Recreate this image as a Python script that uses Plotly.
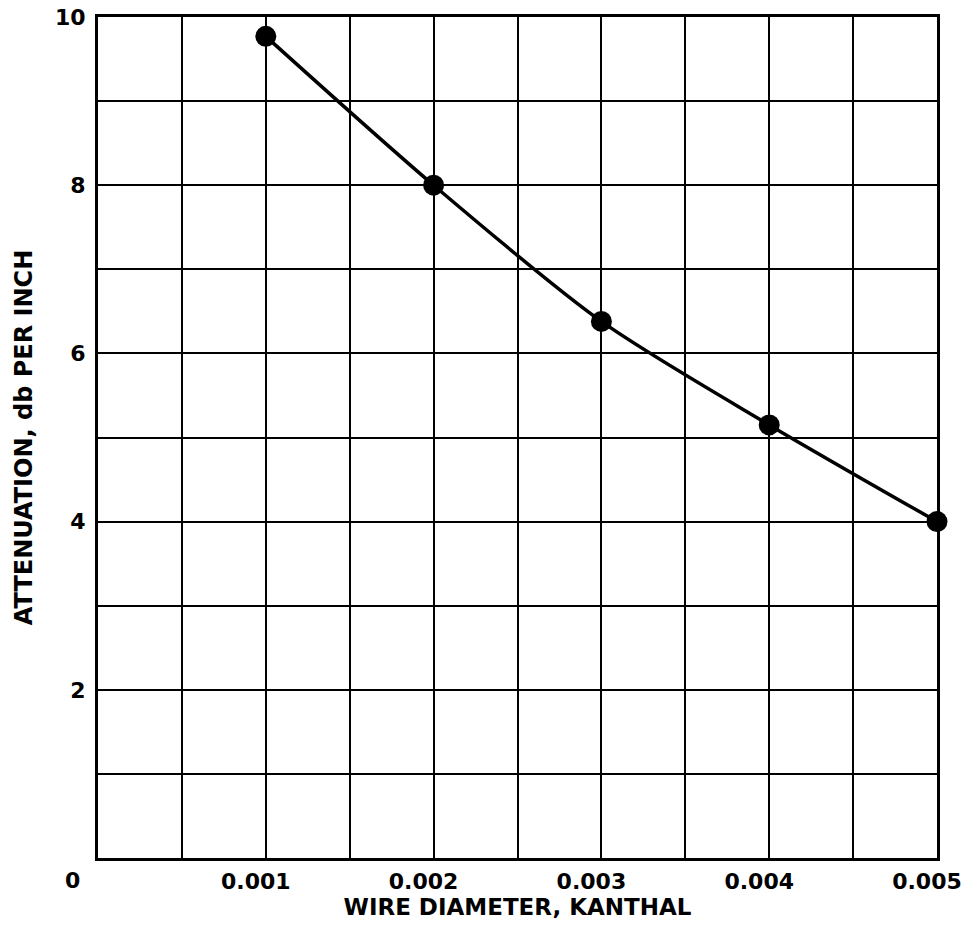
import plotly.graph_objects as go

diameter = [0.001, 0.002, 0.003, 0.004, 0.005]
attenuation = [9.77, 8.0, 6.38, 5.15, 4.0]

x_tickvals = [0.001, 0.002, 0.003, 0.004, 0.005]
x_ticktext = ["0.001", "0.002", "0.003", "0.004", "0.005"]
y_tickvals = [2, 4, 6, 8, 10]
y_ticktext = ["2", "4", "6", "8", "10"]

FONT = "DejaVu Sans"

fig = go.Figure()
fig.add_trace(go.Scatter(
    x=diameter, y=attenuation,
    mode="lines+markers",
    line=dict(color="black", width=3.5, shape="spline", smoothing=0.8),
    marker=dict(color="black", size=21, line=dict(color="black", width=0)),
    showlegend=False, cliponaxis=False,
))

fig.update_layout(
    width=976, height=927,
    margin=dict(l=98, r=39, t=17, b=69),
    paper_bgcolor="white", plot_bgcolor="white",
    font=dict(family=FONT, color="black"),
    xaxis=dict(
        range=[0, 0.005], automargin=False,
        tickvals=x_tickvals, ticktext=x_ticktext,
        tickfont=dict(size=22, family=FONT, weight="bold"),
        showgrid=True, gridcolor="black", gridwidth=2,
        minor=dict(dtick=0.0005, tick0=0, showgrid=True, gridcolor="black", gridwidth=2),
        showline=True, linecolor="black", linewidth=3, mirror=True,
        ticks="", ticklabelstandoff=2, ticklabelshift=-10, zeroline=False,
        title=dict(text="WIRE DIAMETER, KANTHAL",
                   font=dict(size=23, family=FONT, weight="bold"), standoff=0),
    ),
    yaxis=dict(
        range=[0, 10], automargin=False,
        tickvals=y_tickvals, ticktext=y_ticktext,
        tickfont=dict(size=22, family=FONT, weight="bold"),
        showgrid=True, gridcolor="black", gridwidth=2,
        minor=dict(dtick=1, tick0=0, showgrid=True, gridcolor="black", gridwidth=2),
        showline=True, linecolor="black", linewidth=3, mirror=True,
        ticks="", ticklabelstandoff=5, zeroline=False,
        title=dict(text="ATTENUATION, db PER INCH",
                   font=dict(size=24, family=FONT, weight="bold"), standoff=16),
    ),
)

fig.add_annotation(
    text="0", xref="paper", yref="paper", x=0, y=0,
    xanchor="center", yanchor="top", xshift=-26, yshift=-8,
    showarrow=False, font=dict(size=22, family=FONT, weight="bold", color="black"),
)

fig.write_html("out.html")
